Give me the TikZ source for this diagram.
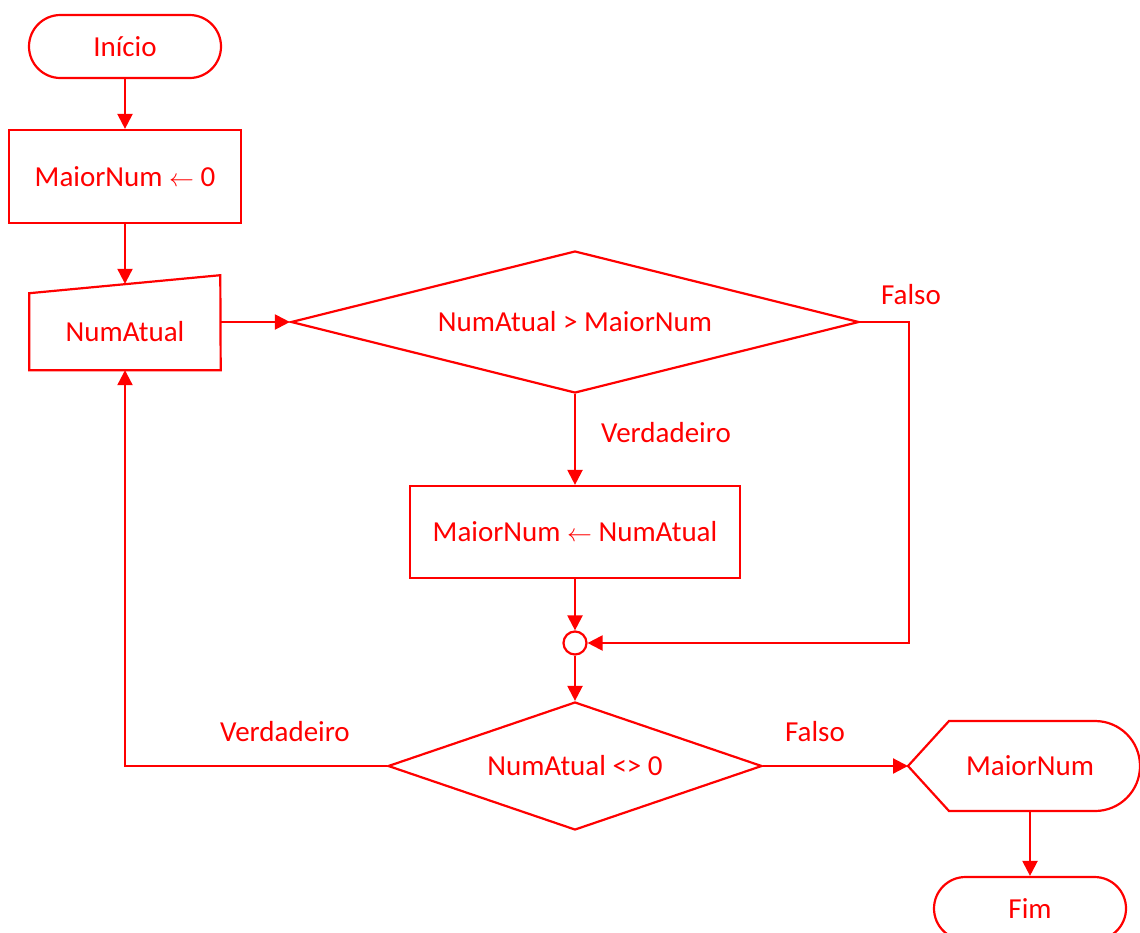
\documentclass[tikz,border=0pt]{standalone}
\usepackage{fontspec}
\setmainfont{Carlito}
\usetikzlibrary{shapes,arrows.meta,positioning}

\tikzset{
  every node/.style={text=red, font=\fontsize{29}{35}\selectfont},
  shp/.style={draw=red, line width=2.2pt},
  terminal/.style={shp, rectangle, rounded corners=31.5pt, minimum width=192pt, minimum height=63pt},
  process/.style={shp, rectangle, minimum height=93pt},
  decision/.style={shp, diamond, inner sep=0pt},
  arr/.style={red, line width=2.2pt, -{Triangle[length=15pt,width=15pt]}},
  lin/.style={red, line width=2.2pt}
}

\begin{document}
\begin{tikzpicture}[x=1pt,y=-1pt]
  \useasboundingbox (0,0) rectangle (1140,932);

  % blocos
  \node[terminal] (start) at (125,46.5) {Início};
  \node[process, minimum width=232pt] (init) at (125,176.5) {MaiorNum $\leftarrow$ 0};
  \node[minimum width=191pt, minimum height=77pt, inner sep=0pt] (input) at (125,331.5) {NumAtual};
  \draw[shp] (input.south west) -- ++(0,-77) -- ++(191,-18) -- (input.south east) -- cycle;
  \coordinate (intop) at ([yshift=9pt]input.north);
  \node[decision, aspect=4, minimum width=568pt, minimum height=142pt] (dec1) at (575,322) {NumAtual > MaiorNum};
  \node[process, minimum width=330pt, minimum height=92pt] (upd) at (575,532) {MaiorNum $\leftarrow$ NumAtual};
  \node[shp, circle, minimum size=23pt, inner sep=0pt] (join) at (575,643) {};
  \node[decision, aspect=2.92, minimum width=374pt, minimum height=128pt] (dec2) at (575,766) {NumAtual <> 0};
  \node[minimum height=90pt, inner sep=0pt] (out) at (1030,766) {MaiorNum};
  \coordinate (outtip) at ([xshift=-122pt]out.center);
  \draw[shp] (outtip) -- ++(41,-45) -- ++(146,0) arc[start angle=90, end angle=-90, radius=45pt] -- ++(-146,0) -- cycle;
  \node[terminal] (stop) at (1030,908.5) {Fim};

  % rotulos
  \node (f1) at (911,295) {Falso};
  \node (v1) at (666,433) {Verdadeiro};
  \node (v2) at (285,732) {Verdadeiro};
  \node (f2) at (815,732) {Falso};

  % ligacoes
  \draw[arr] (start) -- (init);
  \draw[arr] (init) -- (intop);
  \draw[arr] (input.east |- dec1.west) -- (dec1.west);
  \draw[arr] (dec1.east) -- ++(49,0) |- (join.east);
  \draw[arr] (dec1.south) -- (upd.north);
  \draw[arr] (upd.south) -- (join.north);
  \draw[arr] (join.south) -- (dec2.north);
  \draw[arr] (dec2.west) -| (input.south);
  \draw[arr] (dec2.east) -- (outtip);
  \draw[arr] (out.south) -- (stop.north);
\end{tikzpicture}
\end{document}
